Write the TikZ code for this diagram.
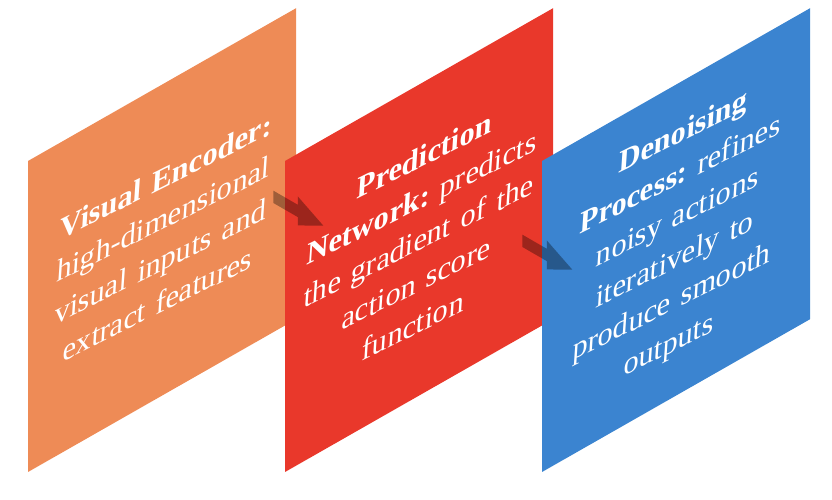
\documentclass[tikz,border=0pt]{standalone}
\usepackage{fontspec}
\setmainfont{Liberation Serif}
\frenchspacing
\definecolor{encC}{RGB}{238,139,86}
\definecolor{predC}{RGB}{233,56,43}
\definecolor{denC}{RGB}{59,132,208}
\begin{document}
\begin{tikzpicture}[x=1pt,y=1pt,
  panel/.style={anchor=south west, minimum width=268pt, minimum height=311pt,
    inner sep=0pt, outer sep=0pt, draw=none, transform shape},
  paneltext/.style={inner sep=0pt, text=white, align=center, text width=250pt,
    font=\fontsize{30.5}{41}\selectfont\frenchspacing, rotate=-4, transform shape},
  flowarrow/.style={fill=black, fill opacity=0.33, draw=none}]
\useasboundingbox (0,0) rectangle (832,500);
\begin{scope}[shift={(28,28)}, yslant=0.57]
  \node[panel, fill=encC] (enc) at (0,0) {};
  \node[paneltext] (enct) at (enc.center)
    {\textbf{Visual Encoder:}\\ high-dimensional\\ visual inputs and\\ extract features};
\end{scope}
\begin{scope}[shift={(285,28)}, yslant=0.57]
  \node[panel, fill=predC] (pred) at (0,0) {};
  \node[paneltext] (predt) at (pred.center)
    {\textbf{Prediction}\\ \textbf{Network:} predicts\\ the gradient of the\\ action score\\ function};
\end{scope}
\begin{scope}[shift={(542,28)}, yslant=0.57]
  \node[panel, fill=denC] (den) at (0,0) {};
  \node[paneltext] (dent) at (den.center)
    {\textbf{Denoising}\\ \textbf{Process:} refines\\ noisy actions\\ iteratively to\\ produce smooth\\ outputs};
\end{scope}
\coordinate (a1) at (273.3,303.2);
\coordinate (a2) at (522.3,259.2);
\foreach \s in {a1,a2}{
  \begin{scope}[shift={(\s)}, yslant=-0.5774]
    \fill[flowarrow] (0,6.15) -- (24.5,6.15) -- (24.5,14.5) -- (50,0) -- (24.5,-14.5) -- (24.5,-6.15) -- (0,-6.15) -- cycle;
  \end{scope}
}
\end{tikzpicture}
\end{document}
